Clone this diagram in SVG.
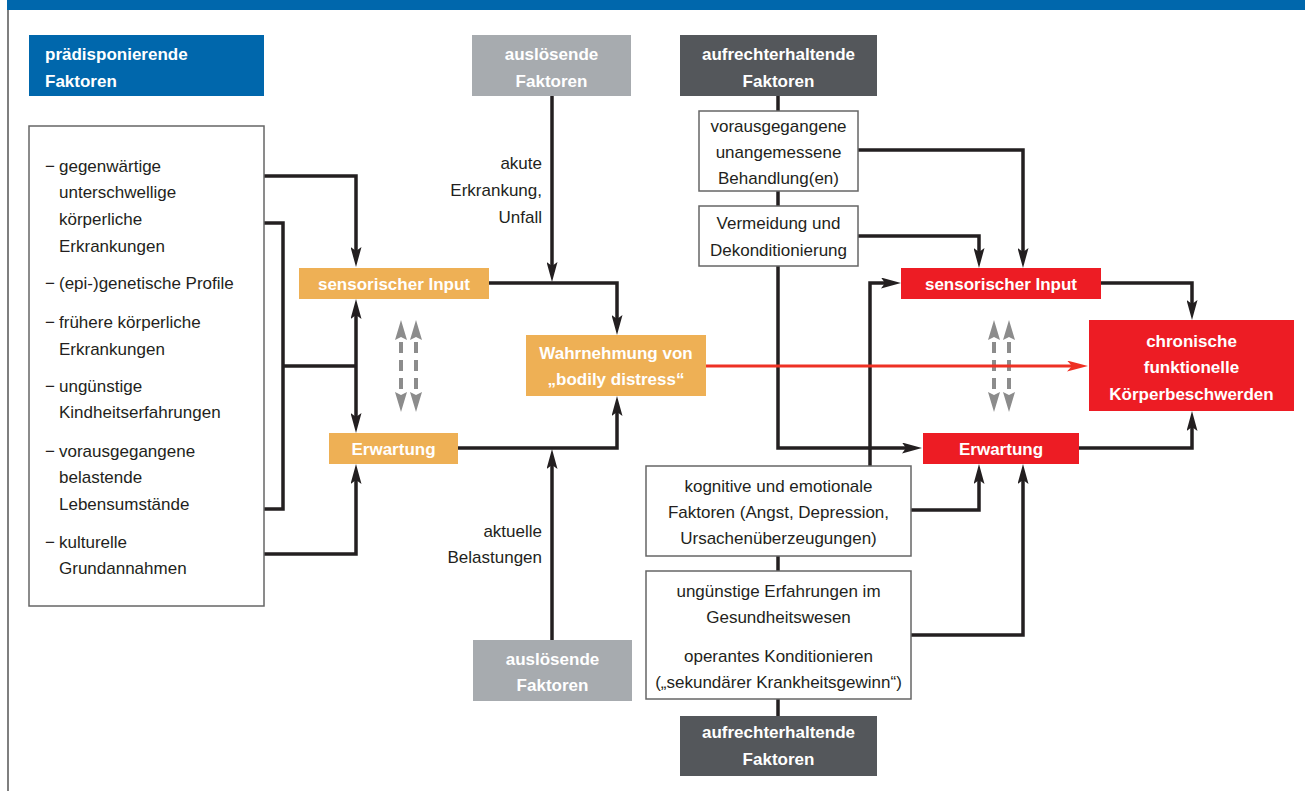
<svg xmlns="http://www.w3.org/2000/svg" width="1305" height="791" viewBox="0 0 1305 791">
<style>
.t{font-family:"Liberation Sans",Arial,sans-serif;font-size:17px;fill:#231F20}
.b{font-family:"Liberation Sans",Arial,sans-serif;font-size:17px;font-weight:bold;fill:#FFFFFF}
.c{text-anchor:middle}
.r{text-anchor:end}
.box{fill:#FFFFFF;stroke:#666666;stroke-width:1.5}
.or{fill:#EEB055}
.red{fill:#ED1C24}
.gr{fill:#A7ABAF}
.dk{fill:#54575B}
.bl{fill:#0067AC}
.cn{fill:none;stroke:#231F20;stroke-width:3.5;stroke-linejoin:miter}
.dash{fill:none;stroke:#8C8C8C;stroke-width:4;stroke-dasharray:11 7}
</style>
<defs>
<marker id="ah" viewBox="0 0 20 11" refX="10" refY="5.5" markerWidth="20" markerHeight="11" markerUnits="userSpaceOnUse" orient="auto-start-reverse">
<path d="M0,0 L20,5.5 L0,11 L4,5.5 Z" fill="#231F20"/>
</marker>
<marker id="ahg" viewBox="0 0 20 12" refX="-2" refY="6" markerWidth="20" markerHeight="12" markerUnits="userSpaceOnUse" orient="auto-start-reverse">
<path d="M0,0 L20,6 L0,12 L3,6 Z" fill="#8C8C8C"/>
</marker>
<marker id="ahr" viewBox="0 0 21 11" refX="11" refY="5.5" markerWidth="21" markerHeight="11" markerUnits="userSpaceOnUse" orient="auto">
<path d="M0,0 L21,5.5 L0,11 L5,5.5 Z" fill="#EE3124"/>
</marker>
</defs>
<rect width="1305" height="791" fill="#FFFFFF"/>
<g id="frame">
<rect x="7" y="0" width="1298" height="10" class="bl"/>
<line x1="8" y1="10" x2="8" y2="791" stroke="#555555" stroke-width="1.5"/>
</g>

<g id="connectors">
<path class="cn" d="M264,176 H356 V257" marker-end="url(#ah)"/>
<path class="cn" d="M264,223 H283 V509 H264"/>
<path class="cn" d="M283,366 H356"/>
<path class="cn" d="M356,309 V423" marker-start="url(#ah)" marker-end="url(#ah)"/>
<path class="cn" d="M264,554 H356 V474" marker-end="url(#ah)"/>
<path class="cn" d="M552,96 V272" marker-end="url(#ah)"/>
<path class="cn" d="M489,283 H617 V325" marker-end="url(#ah)"/>
<path class="cn" d="M458,448 H617 V406" marker-end="url(#ah)"/>
<path class="cn" d="M552,640 V459" marker-end="url(#ah)"/>
<path class="cn" d="M778,96 V111"/>
<path class="cn" d="M778,191 V206"/>
<path class="cn" d="M778,266 V448 H912" marker-end="url(#ah)"/>
<path class="cn" d="M858,150 H1023 V258" marker-end="url(#ah)"/>
<path class="cn" d="M858,236 H979 V258" marker-end="url(#ah)"/>
<path class="cn" d="M870,466 V283 H891" marker-end="url(#ah)"/>
<path class="cn" d="M1101,283 H1192 V310" marker-end="url(#ah)"/>
<path class="cn" d="M1079,448 H1192 V421" marker-end="url(#ah)"/>
<path class="cn" d="M911,510 H979 V474" marker-end="url(#ah)"/>
<path class="cn" d="M911,635 H1023 V474" marker-end="url(#ah)"/>
<path class="cn" d="M778,556 V571"/>
<path class="cn" d="M778,699 V716"/>
<line class="dash" x1="401" y1="342" x2="401" y2="390" marker-start="url(#ahg)" marker-end="url(#ahg)"/>
<line class="dash" x1="416" y1="342" x2="416" y2="390" marker-start="url(#ahg)" marker-end="url(#ahg)"/>
<line class="dash" x1="994" y1="342" x2="994" y2="390" marker-start="url(#ahg)" marker-end="url(#ahg)"/>
<line class="dash" x1="1009" y1="342" x2="1009" y2="390" marker-start="url(#ahg)" marker-end="url(#ahg)"/>
<line x1="706" y1="366" x2="1078" y2="366" stroke="#EE3124" stroke-width="3" marker-end="url(#ahr)"/>
<text class="t r" x="542" y="169">akute</text>
<text class="t r" x="542" y="196">Erkrankung,</text>
<text class="t r" x="542" y="223">Unfall</text>
<text class="t r" x="542" y="537">aktuelle</text>
<text class="t r" x="542" y="563">Belastungen</text>
</g>

<g id="praedisponierende">
<rect x="29" y="35" width="235" height="61" class="bl"/>
<text class="b" x="45" y="60">prädisponierende</text>
<text class="b" x="45" y="87">Faktoren</text>
</g>

<g id="liste">
<rect x="29" y="126" width="235" height="480" class="box"/>
<text class="t" x="45" y="172">−</text><text class="t" x="59" y="172">gegenwärtige</text>
<text class="t" x="59" y="198">unterschwellige</text>
<text class="t" x="59" y="225">körperliche</text>
<text class="t" x="59" y="252">Erkrankungen</text>
<text class="t" x="45" y="289">−</text><text class="t" x="59" y="289">(epi-)genetische Profile</text>
<text class="t" x="45" y="328">−</text><text class="t" x="59" y="328">frühere körperliche</text>
<text class="t" x="59" y="355">Erkrankungen</text>
<text class="t" x="45" y="392">−</text><text class="t" x="59" y="392">ungünstige</text>
<text class="t" x="59" y="418">Kindheitserfahrungen</text>
<text class="t" x="45" y="457">−</text><text class="t" x="59" y="457">vorausgegangene</text>
<text class="t" x="59" y="483">belastende</text>
<text class="t" x="59" y="510">Lebensumstände</text>
<text class="t" x="45" y="548">−</text><text class="t" x="59" y="548">kulturelle</text>
<text class="t" x="59" y="574">Grundannahmen</text>
</g>

<g id="sensorisch-orange">
<rect x="299" y="268" width="190" height="31" class="or"/>
<text class="b c" x="394" y="290">sensorischer Input</text>
</g>
<g id="erwartung-orange">
<rect x="329" y="433" width="129" height="31" class="or"/>
<text class="b c" x="393.5" y="455">Erwartung</text>
</g>
<g id="wahrnehmung">
<rect x="526" y="335" width="180" height="61" class="or"/>
<text class="b c" x="616" y="359">Wahrnehmung von</text>
<text class="b c" x="616" y="385">„bodily distress“</text>
</g>

<g id="ausloesend-oben">
<rect x="472" y="35" width="159" height="61" class="gr"/>
<text class="b c" x="551.5" y="60">auslösende</text>
<text class="b c" x="551.5" y="87">Faktoren</text>
</g>
<g id="ausloesend-unten">
<rect x="473" y="640" width="159" height="61" class="gr"/>
<text class="b c" x="552.5" y="665">auslösende</text>
<text class="b c" x="552.5" y="691">Faktoren</text>
</g>

<g id="aufrecht-oben">
<rect x="680" y="35" width="197" height="61" class="dk"/>
<text class="b c" x="778.5" y="60">aufrechterhaltende</text>
<text class="b c" x="778.5" y="87">Faktoren</text>
</g>
<g id="aufrecht-unten">
<rect x="680" y="716" width="197" height="60" class="dk"/>
<text class="b c" x="778.5" y="738">aufrechterhaltende</text>
<text class="b c" x="778.5" y="765">Faktoren</text>
</g>

<g id="behandlung">
<rect x="699" y="111" width="159" height="80" class="box"/>
<text class="t c" x="778.5" y="132">vorausgegangene</text>
<text class="t c" x="778.5" y="158">unangemessene</text>
<text class="t c" x="778.5" y="184">Behandlung(en)</text>
</g>
<g id="vermeidung">
<rect x="699" y="206" width="159" height="60" class="box"/>
<text class="t c" x="778.5" y="229">Vermeidung und</text>
<text class="t c" x="778.5" y="256">Dekonditionierung</text>
</g>
<g id="kognitiv">
<rect x="646" y="466" width="265" height="90" class="box"/>
<text class="t c" x="778.5" y="492">kognitive und emotionale</text>
<text class="t c" x="778.5" y="518">Faktoren (Angst, Depression,</text>
<text class="t c" x="778.5" y="544">Ursachenüberzeugungen)</text>
</g>
<g id="erfahrungen">
<rect x="646" y="571" width="265" height="128" class="box"/>
<text class="t c" x="778.5" y="597">ungünstige Erfahrungen im</text>
<text class="t c" x="778.5" y="623">Gesundheitswesen</text>
<text class="t c" x="778.5" y="662">operantes Konditionieren</text>
<text class="t c" x="778.5" y="688">(„sekundärer Krankheitsgewinn“)</text>
</g>

<g id="sensorisch-rot">
<rect x="901" y="268" width="200" height="31" class="red"/>
<text class="b c" x="1001" y="290">sensorischer Input</text>
</g>
<g id="erwartung-rot">
<rect x="923" y="433" width="156" height="31" class="red"/>
<text class="b c" x="1001" y="455">Erwartung</text>
</g>
<g id="chronisch">
<rect x="1089" y="320" width="205" height="91" class="red"/>
<text class="b c" x="1191.5" y="347">chronische</text>
<text class="b c" x="1191.5" y="373">funktionelle</text>
<text class="b c" x="1191.5" y="400">Körperbeschwerden</text>
</g>
</svg>
